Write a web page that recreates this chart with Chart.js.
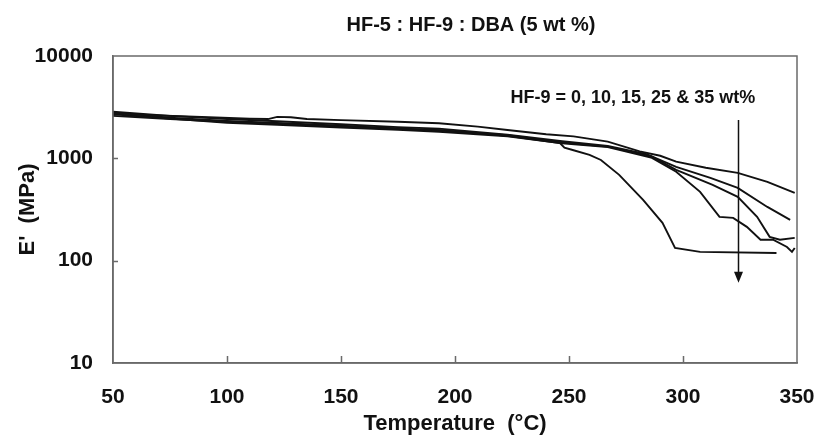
<!DOCTYPE html>
<html><head><meta charset="utf-8">
<script src="https://cdn.jsdelivr.net/npm/chart.js@4/dist/chart.umd.min.js"></script>
<style>html,body{margin:0;padding:0;background:#fff}</style>
</head><body>
<canvas id="c" width="816" height="435"></canvas>
<script>
const chartTitle = 'HF-5 : HF-9 : DBA (5 wt %)';
const xTitle = 'Temperature  (\u00B0C)';
const yTitle = "E'  (MPa)";
const annotationText = 'HF-9 = 0, 10, 15, 25 & 35 wt%';
const seriesNames = ['HF-9 0 wt%', 'HF-9 10 wt%', 'HF-9 15 wt%', 'HF-9 25 wt%', 'HF-9 35 wt%'];
const xTicks = [50, 100, 150, 200, 250, 300, 350];
const yTicks = [10, 100, 1000, 10000];

const temp0 = [50, 70, 92, 110, 118, 122, 128, 135, 150, 175, 193, 210, 223, 240, 252, 267, 281, 290, 297, 310, 324, 337, 349];
const mod0  = [2750, 2620, 2520, 2440, 2420, 2540, 2520, 2420, 2360, 2280, 2200, 2040, 1892, 1720, 1640, 1455, 1170, 1060, 930, 810, 720, 589, 459];

const temp1 = [50, 75, 100, 122, 150, 175, 193, 223, 247, 267, 284, 297, 312, 324, 337, 347];
const mod1  = [2850, 2600, 2420, 2300, 2150, 2020, 1950, 1700, 1470, 1320, 1100, 824, 644, 514, 335, 250];

const temp2 = [50, 75, 100, 122, 150, 175, 193, 223, 247, 267, 286, 297, 313, 324, 332.5, 338, 342.5, 349];
const mod2  = [2600, 2420, 2280, 2180, 2060, 1960, 1880, 1680, 1430, 1300, 1050, 771, 550, 420, 268, 171, 160, 167];

const temp3 = [50, 75, 100, 122, 150, 175, 193, 223, 247, 267, 286, 297, 307.5, 316, 322, 328, 334, 339.5, 345.6, 347.8, 349];
const mod3  = [2700, 2450, 2230, 2130, 2000, 1900, 1820, 1640, 1400, 1290, 1020, 740, 470, 268, 262, 214, 160, 160, 136, 122, 133];

const temp4 = [50, 75, 100, 122, 150, 175, 193, 223, 246, 248, 252, 259, 264, 272, 282.5, 291, 296.5, 307.5, 341];
const mod4  = [2800, 2500, 2320, 2220, 2080, 1950, 1880, 1660, 1412, 1270, 1200, 1079, 964, 690, 393, 234, 133, 122, 119];

const temps = [temp0, temp1, temp2, temp3, temp4];
const mods = [mod0, mod1, mod2, mod3, mod4];

// annotation anchors (data coordinates)
const noteT = 278, noteE = 3900;
const titleT = 207;
const arrowT = 324, arrowTopE = 2370, arrowTipE = 61;

const FONT = "'Liberation Sans', Arial, sans-serif";

const datasets = seriesNames.map((name, i) => ({
  label: name,
  data: temps[i].map((t, j) => ({x: t, y: mods[i][j]})),
  borderColor: '#111',
  borderWidth: 1.9,
  pointRadius: 0,
  showLine: true,
  fill: false,
  tension: 0
}));

const decor = {
  id: 'decor',
  afterDraw(chart) {
    const {ctx, chartArea: a, scales: {x, y}} = chart;
    ctx.save();
    // frame
    ctx.strokeStyle = '#6a6a6a';
    ctx.lineWidth = 1.5;
    ctx.strokeRect(a.left, a.top, a.right - a.left, a.bottom - a.top);
    // inner tick marks
    ctx.beginPath();
    xTicks.slice(1, -1).forEach(t => {
      const px = Math.round(x.getPixelForValue(t)) + 0.5;
      ctx.moveTo(px, a.bottom); ctx.lineTo(px, a.bottom - 7);
    });
    yTicks.slice(1, -1).forEach(v => {
      const py = Math.round(y.getPixelForValue(v)) + 0.5;
      ctx.moveTo(a.left, py); ctx.lineTo(a.left + 5, py);
    });
    ctx.stroke();
    ctx.fillStyle = '#111';
    ctx.textAlign = 'center';
    ctx.textBaseline = 'middle';
    // chart title
    ctx.font = 'bold 20px ' + FONT;
    ctx.fillText(chartTitle, x.getPixelForValue(titleT), 25);
    // annotation text
    ctx.font = 'bold 18px ' + FONT;
    ctx.fillText(annotationText, x.getPixelForValue(noteT), y.getPixelForValue(noteE));
    // arrow
    const ax = Math.round(x.getPixelForValue(arrowT)) + 0.5;
    const y1 = y.getPixelForValue(arrowTopE), y2 = y.getPixelForValue(arrowTipE);
    ctx.strokeStyle = '#111';
    ctx.lineWidth = 1.5;
    ctx.beginPath(); ctx.moveTo(ax, y1); ctx.lineTo(ax, y2 - 8); ctx.stroke();
    ctx.beginPath();
    ctx.moveTo(ax - 4.5, y2 - 11); ctx.lineTo(ax + 4.5, y2 - 11); ctx.lineTo(ax, y2); ctx.closePath();
    ctx.fill();
    ctx.restore();
  }
};

new Chart(document.getElementById('c'), {
  type: 'scatter',
  data: {datasets},
  options: {
    responsive: false,
    animation: false,
    layout: {padding: {left: 0, right: 19, top: 56, bottom: 0}},
    plugins: {
      legend: {display: false},
      tooltip: {enabled: false},
      title: {display: false}
    },
    scales: {
      x: {
        type: 'linear', min: 50, max: 350,
        afterBuildTicks: s => { s.ticks = xTicks.map(v => ({value: v})); },
        afterFit: s => { s.height = 72; s.paddingLeft = 0; s.paddingRight = 0; },
        ticks: {color: '#111', font: {family: FONT, size: 21, weight: 'bold'}, padding: 22, maxRotation: 0, autoSkip: false},
        grid: {drawOnChartArea: false, drawTicks: false},
        border: {color: '#6a6a6a', width: 1.5},
        title: {display: true, text: xTitle, color: '#111', font: {family: FONT, size: 22, weight: 'bold', lineHeight: 1.0}, padding: 0}
      },
      y: {
        type: 'logarithmic', min: 10, max: 10000,
        afterBuildTicks: s => { s.ticks = yTicks.map(v => ({value: v})); },
        afterFit: s => { s.width = 113; s.paddingTop = 0; s.paddingBottom = 0; },
        ticks: {color: '#111', font: {family: FONT, size: 21, weight: 'bold'}, padding: 20, callback: v => String(v)},
        grid: {drawOnChartArea: false, drawTicks: false},
        border: {color: '#6a6a6a', width: 1.5},
        title: {display: true, text: yTitle, color: '#111', font: {family: FONT, size: 22, weight: 'bold', lineHeight: 1.2}, padding: {top: 15, bottom: 0}}
      }
    }
  },
  plugins: [decor]
});
</script>
</body></html>
